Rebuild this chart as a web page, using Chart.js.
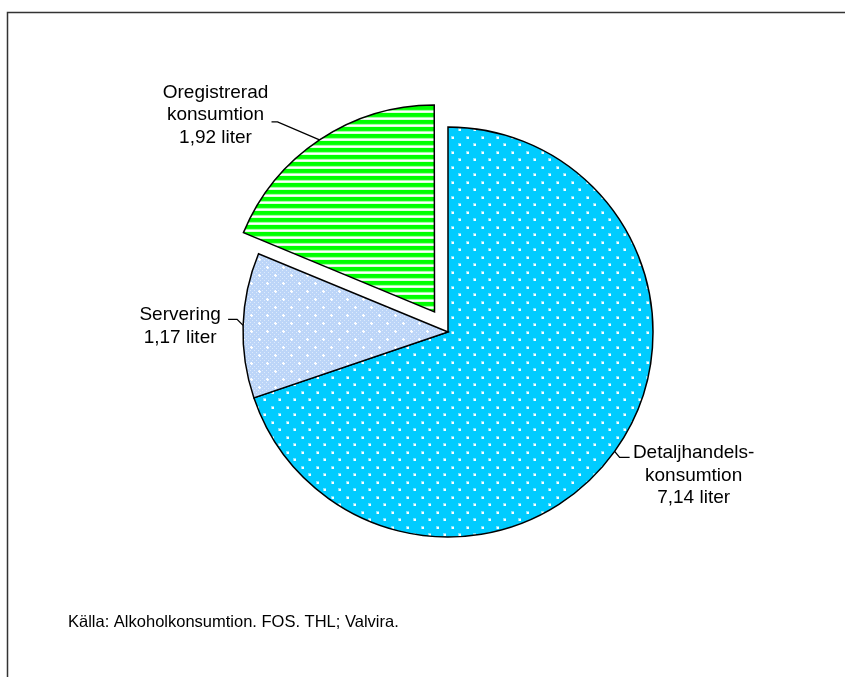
<!DOCTYPE html>
<html>
<head>
<meta charset="utf-8">
<script src="https://cdn.jsdelivr.net/npm/chart.js@4"></script>
<style>
  body { margin: 0; background: #fff; }
  canvas { display: block; }
</style>
</head>
<body>
<canvas id="chart" width="845" height="677"></canvas>
<script>
// data
const categories = ["Detaljhandelskonsumtion", "Servering", "Oregistrerad konsumtion"];
const litres = [7.14, 1.17, 1.92];
const labelNames = [["Detaljhandels-", "konsumtion"], ["Servering"], ["Oregistrerad", "konsumtion"]];
const sourceText = "Källa: Alkoholkonsumtion. FOS. THL; Valvira.";

// label placement relative to the leader anchor on the arc: text dx/dy, leader end, knee
const labelSpots = [
  { tx: 79, ty: 7, ex: 15, ey: 6, kx: 5, ky: 6 },
  { tx: -63, ty: -5, ex: -15, ey: -6, kx: -6, ky: -6 },
  { tx: -104, ty: -42, ex: -48, ey: -18, kx: -42, ky: -18 },
];

const canvas = document.getElementById("chart");
const mainCtx = canvas.getContext("2d");

function makePattern(w, h, draw) {
  const c = document.createElement("canvas");
  c.width = w;
  c.height = h;
  draw(c.getContext("2d"));
  return mainCtx.createPattern(c, "repeat");
}

function dot(g, x, y) {
  g.fillStyle = "rgba(255,255,255,0.5)";
  g.fillRect(x - 1, y - 1, 3, 3);
  g.fillStyle = "#fff";
  g.fillRect(x, y, 2, 2);
}

const cyanDots = makePattern(15, 15, (g) => {
  g.fillStyle = "#00CCFF";
  g.fillRect(0, 0, 15, 15);
  dot(g, 2, 2);
  dot(g, 9, 9);
});

const blueGrid = makePattern(16, 16, (g) => {
  g.fillStyle = "#BCD5F8";
  g.fillRect(0, 0, 16, 16);
  g.fillStyle = "#DCEAFC";
  for (let y = 0; y < 16; y += 2) {
    for (let x = (y % 4 === 0 ? 0 : 2); x < 16; x += 4) {
      g.fillRect(x, y, 1, 1);
    }
  }
  g.fillStyle = "#fff";
  [[3, 3], [11, 11]].forEach(([x, y]) => {
    g.fillRect(x, y - 1, 1, 3);
    g.fillRect(x - 1, y, 3, 1);
  });
});

const greenStripes = makePattern(8, 7, (g) => {
  g.fillStyle = "#fff";
  g.fillRect(0, 0, 8, 7);
  g.fillStyle = "#00FF00";
  g.fillRect(0, 0, 8, 4);
  g.fillStyle = "#99FF99";
  g.fillRect(0, 4, 8, 1);
});

const framePlugin = {
  id: "frame",
  beforeDraw(chart) {
    const ctx = chart.ctx;
    ctx.save();
    ctx.fillStyle = "#fff";
    ctx.fillRect(0, 0, chart.width, chart.height);
    ctx.strokeStyle = "#333";
    ctx.lineWidth = 1.5;
    ctx.beginPath();
    ctx.moveTo(7.5, chart.height);
    ctx.lineTo(7.5, 12.5);
    ctx.lineTo(chart.width, 12.5);
    ctx.stroke();
    ctx.restore();
  },
};

const labelPlugin = {
  id: "sliceLabels",
  afterDatasetsDraw(chart) {
    const ctx = chart.ctx;
    const meta = chart.getDatasetMeta(0);
    ctx.save();
    ctx.font = '19px "Liberation Sans", Arial, sans-serif';
    ctx.fillStyle = "#000";
    ctx.strokeStyle = "#000";
    ctx.lineWidth = 1.3;
    ctx.textAlign = "center";
    meta.data.forEach((arc, i) => {
      const p = arc.getProps(["x", "y", "startAngle", "endAngle", "outerRadius", "circumference"]);
      const mid = (p.startAngle + p.endAngle) / 2;
      const off = (arc.options.offset || 0) / 4;
      const shift = off * (2 - Math.sin(Math.min(Math.PI, p.circumference)));
      const ax = p.x + Math.cos(mid) * (shift + p.outerRadius);
      const ay = p.y + Math.sin(mid) * (shift + p.outerRadius);
      const s = labelSpots[i];
      ctx.beginPath();
      ctx.moveTo(ax, ay);
      ctx.lineTo(ax + s.kx, ay + s.ky);
      ctx.lineTo(ax + s.ex, ay + s.ey);
      ctx.stroke();
      const lines = labelNames[i].concat([litres[i].toFixed(2).replace(".", ",") + " liter"]);
      lines.forEach((t, j) => {
        ctx.fillText(t, ax + s.tx, ay + s.ty + j * 22.5);
      });
    });
    ctx.textAlign = "left";
    ctx.font = '16.5px "Liberation Sans", Arial, sans-serif';
    ctx.fillText(sourceText, 68, 627);
    ctx.restore();
  },
};

const chart = new Chart(mainCtx, {
  type: "pie",
  data: {
    labels: categories,
    datasets: [
      {
        data: litres,
        backgroundColor: [cyanDots, blueGrid, greenStripes],
        borderColor: "#000",
        borderWidth: 1.5,
        borderJoinStyle: "miter",
        offset: [0, 0, 97],
        hoverOffset: 0,
        radius: 205,
      },
    ],
  },
  options: {
    responsive: false,
    animation: false,
    events: [],
    layout: {
      padding: { left: 151, right: 100, top: 100, bottom: 113 },
    },
    plugins: {
      legend: { display: false },
      tooltip: { enabled: false },
    },
  },
  plugins: [framePlugin, labelPlugin],
});
</script>
</body>
</html>
